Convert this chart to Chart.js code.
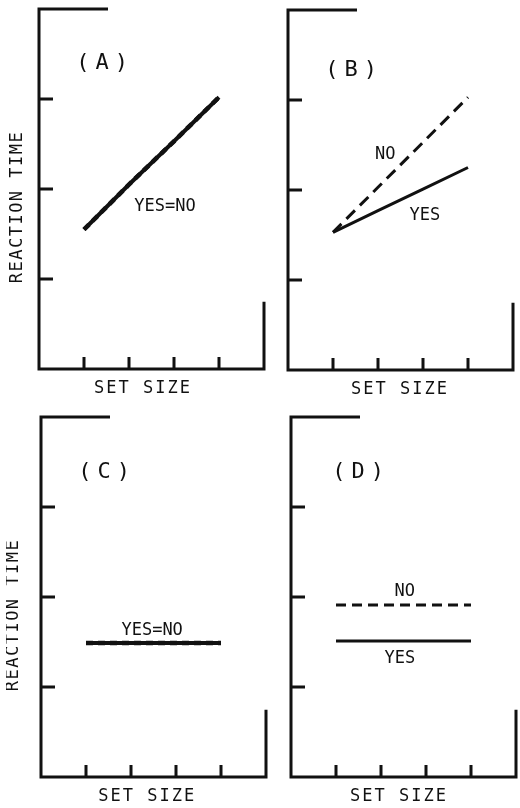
<!DOCTYPE html>
<html><head><meta charset="utf-8">
<script src="https://cdn.jsdelivr.net/npm/chart.js@4/dist/chart.umd.min.js"></script>
<style>
html,body{margin:0;padding:0;background:#fff;width:520px;height:808px;overflow:hidden;position:relative}
.p{position:absolute;width:270px;height:415px}
canvas{display:block}
</style></head><body>
<div class="p" style="left:4px;top:-1px"><canvas id="cA" width="270" height="415"></canvas></div>
<div class="p" style="left:253px;top:0px"><canvas id="cB" width="270" height="415"></canvas></div>
<div class="p" style="left:6px;top:407px"><canvas id="cC" width="270" height="415"></canvas></div>
<div class="p" style="left:256px;top:407px"><canvas id="cD" width="270" height="415"></canvas></div>
<script>
// ---- data (arbitrary units) ----
const setSize = [1, 2, 3, 4];
const xTicks = [1, 2, 3, 4];
const yTicks = [1, 2, 3];
const panelA_yes = [1.55, 2.05, 2.53, 3.02];
const panelA_no  = [1.55, 2.05, 2.53, 3.02];
const panelB_yes = [1.53, 1.77, 2.01, 2.25];
const panelB_no  = [1.53, 2.03, 2.53, 3.03];
const panelC_yes = [1.49, 1.49, 1.49, 1.49];
const panelC_no  = [1.49, 1.49, 1.49, 1.49];
const panelD_yes = [1.51, 1.51, 1.51, 1.51];
const panelD_no  = [1.91, 1.91, 1.91, 1.91];
const panelNames = ['( A )', '( B )', '( C )', '( D )'];

const FONT = "'DejaVu Sans Mono', 'Liberation Mono', monospace";

function pts(vals){ return setSize.map((x,i)=>({x:x, y:vals[i]})); }

const framePlugin = {
  id: 'frame',
  afterDraw(chart, args, o){
    const ctx = chart.ctx, xs = chart.scales.x, ys = chart.scales.y;
    const X = v => xs.getPixelForValue(v), Y = v => ys.getPixelForValue(v);
    ctx.save();
    ctx.strokeStyle = '#111'; ctx.lineWidth = 3; ctx.lineCap = 'square';
    ctx.beginPath();
    // left axis + top stub
    ctx.moveTo(X(1.5), Y(4)); ctx.lineTo(X(0), Y(4)); ctx.lineTo(X(0), Y(0));
    // bottom axis + right stub
    ctx.lineTo(X(5), Y(0)); ctx.lineTo(X(5), Y(0.73));
    ctx.stroke();
    ctx.lineCap = 'butt';
    ctx.beginPath();
    yTicks.forEach(v => { ctx.moveTo(X(0), Y(v)); ctx.lineTo(X(0) + 14, Y(v)); });
    xTicks.forEach(v => { ctx.moveTo(X(v), Y(0)); ctx.lineTo(X(v), Y(0) - 12); });
    ctx.stroke();
    // texts
    ctx.fillStyle = '#111';
    ctx.textAlign = 'center'; ctx.textBaseline = 'middle';
    (o.labels || []).forEach(l => {
      ctx.font = (l.size || 17) + 'px ' + FONT;
      ctx.letterSpacing = (l.sp || 0) + 'px';
      ctx.fillText(l.text, X(l.x), Y(l.y));
    });
    ctx.font = '17px ' + FONT; ctx.letterSpacing = '2px';
    ctx.fillText('SET SIZE', X(o.setX), Y(0) + 20);
    if (o.yTitle) {
      ctx.save();
      ctx.translate(X(0) - o.yTitleOff, Y(1.8));
      ctx.rotate(-Math.PI/2);
      ctx.letterSpacing = '1.5px';
      ctx.fillText('REACTION TIME', 0, 0);
      ctx.restore();
    }
    ctx.restore();
  }
};

function makeChart(id, datasets, frameOpts){
  return new Chart(document.getElementById(id), {
    type: 'line',
    data: { datasets: datasets },
    options: {
      responsive: false, animation: false, devicePixelRatio: 1,
      layout: { padding: { left: 35, right: 10, top: 10, bottom: 45 } },
      scales: {
        x: { type: 'linear', min: 0, max: 5, display: false },
        y: { type: 'linear', min: 0, max: 4, display: false }
      },
      elements: { point: { radius: 0 }, line: { tension: 0 } },
      plugins: { legend: { display: false }, tooltip: { enabled: false }, frame: frameOpts }
    },
    plugins: [framePlugin]
  });
}

function solid(label, vals, w){ return { label, data: pts(vals), borderColor: '#111', borderWidth: w, clip: false }; }
function dashed(label, vals, w, dash){ return { label, data: pts(vals), borderColor: '#111', borderWidth: w, borderDash: dash, clip: false }; }

makeChart('cA', [solid('YES', panelA_yes, 4), dashed('NO', panelA_no, 4.5, [7, 5])], {
  setX: 2.31, yTitle: true, yTitleOff: 21,
  labels: [
    { text: '(A)', x: 1.47, y: 3.4, size: 22, sp: 6 },
    { text: 'YES=NO', x: 2.8, y: 1.8, size: 17, sp: 0 }
  ]
});
makeChart('cB', [solid('YES', panelB_yes, 3), dashed('NO', panelB_no, 3, [12, 7])], {
  setX: 2.49, yTitle: false,
  labels: [
    { text: '(B)', x: 1.47, y: 3.33, size: 22, sp: 6 },
    { text: 'NO', x: 2.16, y: 2.39, size: 17 },
    { text: 'YES', x: 3.04, y: 1.72, size: 17 }
  ]
});
makeChart('cC', [solid('YES', panelC_yes, 4), dashed('NO', panelC_no, 4.5, [7, 5])], {
  setX: 2.36, yTitle: true, yTitleOff: 27,
  labels: [
    { text: '(C)', x: 1.47, y: 3.39, size: 22, sp: 6 },
    { text: 'YES=NO', x: 2.47, y: 1.63, size: 17 }
  ]
});
makeChart('cD', [solid('YES', panelD_yes, 3), dashed('NO', panelD_no, 3, [10, 6])], {
  setX: 2.4, yTitle: false,
  labels: [
    { text: '(D)', x: 1.56, y: 3.39, size: 22, sp: 6 },
    { text: 'NO', x: 2.53, y: 2.06, size: 17 },
    { text: 'YES', x: 2.42, y: 1.32, size: 17 }
  ]
});
</script>
</body></html>
